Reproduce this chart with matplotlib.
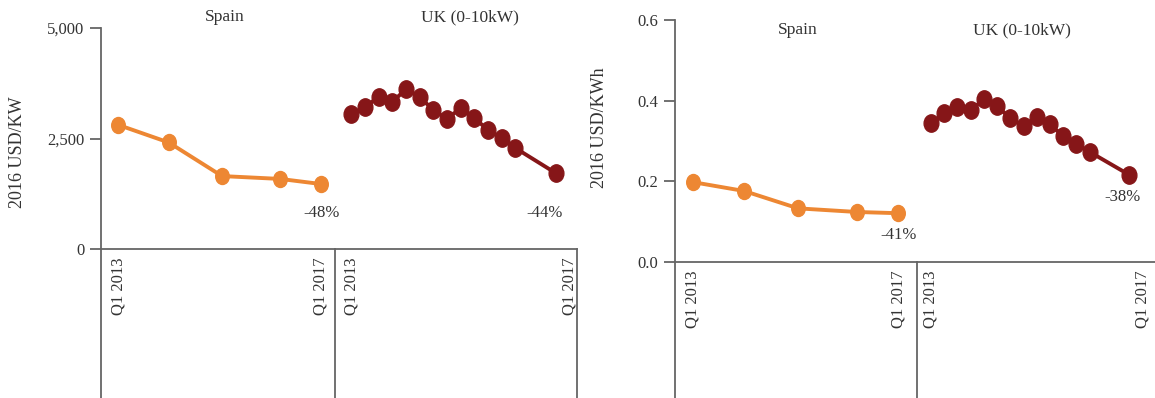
import numpy as np
import matplotlib.pyplot as plt
from matplotlib.path import Path
from matplotlib.transforms import Affine2D

plt.rcParams['font.family'] = ['Liberation Serif', 'DejaVu Serif']

orange = "#ED8733"
darkred = "#861618"
axcol = "#666666"
txtcol = "#333333"

# x positions in years
spain_x = [2013.0, 2014.0, 2015.05, 2016.2, 2017.0]
uk_x = [2013 + q / 4 for q in [0, 1, 2, 3, 4, 5, 6, 7, 8, 9, 10, 11, 12, 15]]

capex_spain = [2810, 2410, 1650, 1585, 1470]
capex_uk = [3054, 3213, 3439, 3326, 3620, 3439, 3145, 2941, 3190, 2964, 2692, 2511, 2285, 1710]

lcoe_spain = [0.198, 0.176, 0.133, 0.124, 0.121]
lcoe_uk = [0.344, 0.369, 0.385, 0.377, 0.403, 0.387, 0.356, 0.337, 0.360, 0.341, 0.312, 0.293, 0.273, 0.216]

tick_labels = ["Q1 2013", "Q1 2017"]
titles = ["Spain", "UK (0-10kW)"]

W, H = 1155, 398
fig = plt.figure(figsize=(W / 100, H / 100), dpi=100)

ell = Affine2D().scale(0.85, 1.0).transform_path(Path.unit_circle())


def px_axes(x0, x1, ytop, ybase):
    return fig.add_axes([x0 / W, (H - ybase) / H, (x1 - x0) / W, (ybase - ytop) / H])


def style(ax, first, ext, right_line=False):
    for s in ["top", "right"]:
        ax.spines[s].set_visible(False)
    ax.spines["bottom"].set_color(axcol)
    ax.spines["bottom"].set_linewidth(1.3)
    ax.spines["left"].set_visible(False)
    ax.set_xticks([2013, 2017], tick_labels, rotation=90)
    ax.tick_params(axis="x", length=0, pad=6, labelsize=12, labelcolor=txtcol)
    if first:
        ax.plot([0, 0], [1, -ext], transform=ax.transAxes, color=axcol, lw=1.3, clip_on=False)
        ax.tick_params(axis="y", length=8, width=1.3, color=axcol, pad=4,
                       labelsize=12, labelcolor=txtcol)
    else:
        ax.plot([0, 0], [0, -ext], transform=ax.transAxes, color=axcol, lw=1.3, clip_on=False)
        ax.set_yticks([])
    if right_line:
        ax.plot([1, 1], [0, -ext], transform=ax.transAxes, color=axcol, lw=1.3, clip_on=False)
    ax.patch.set_alpha(0)


def series(ax, x, y, color, ms, label, off):
    ax.plot(x, y, color=color, lw=2.8, marker=ell, ms=ms, clip_on=False)
    ax.annotate(label, (x[-1], y[-1]), xytext=off, textcoords="offset points",
                ha="center", va="center", fontsize=12, color=txtcol)


# left panel: capex
ext_l = (H - 249) / (249 - 28)
a1 = px_axes(101, 335, 28, 249)
a2 = px_axes(335, 577, 28, 249)
for a in (a1, a2):
    a.set_ylim(0, 5000)
a1.set_xlim(2012.665, 2017.276)
a2.set_xlim(2012.70, 2017.13)
a1.set_yticks([0, 2500, 5000], ["0", "2,500", "5,000"])
style(a1, True, ext_l)
style(a2, False, ext_l, right_line=True)
series(a1, spain_x, capex_spain, orange, 11.5, "-48%", (0.7, -21))
series(a2, uk_x, capex_uk, darkred, 12.5, "-44%", (-8.6, -28.8))

# right panel: lcoe
ext_r = (H - 262) / (262 - 20)
b1 = px_axes(675, 917, 20, 262)
b2 = px_axes(917, 1160, 20, 262)
for b in (b1, b2):
    b.set_ylim(0, 0.6)
b1.set_xlim(2012.649, 2017.37)
b2.set_xlim(2012.736, 2017.33)
b1.set_yticks([0, 0.2, 0.4, 0.6], ["0.0", "0.2", "0.4", "0.6"])
style(b1, True, ext_r)
style(b2, False, ext_r)
series(b1, spain_x, lcoe_spain, orange, 11.5, "-41%", (0.7, -15.8))
series(b2, uk_x, lcoe_uk, darkred, 12.5, "-38%", (-5, -15.8))

# panel titles and axis labels
for (x, y), t in zip([(225, 17), (470, 17), (798, 30), (1022, 30)], titles * 2):
    fig.text(x / W, 1 - y / H, t, ha="center", va="center", fontsize=12.5, color=txtcol)
fig.text(18 / W, 1 - 152 / H, "2016 USD/KW", rotation=90, ha="center", va="center",
         fontsize=13, color=txtcol)
fig.text(600 / W, 1 - 128 / H, "2016 USD/KWh", rotation=90, ha="center", va="center",
         fontsize=13, color=txtcol)

fig.savefig("out.png", dpi=100)
